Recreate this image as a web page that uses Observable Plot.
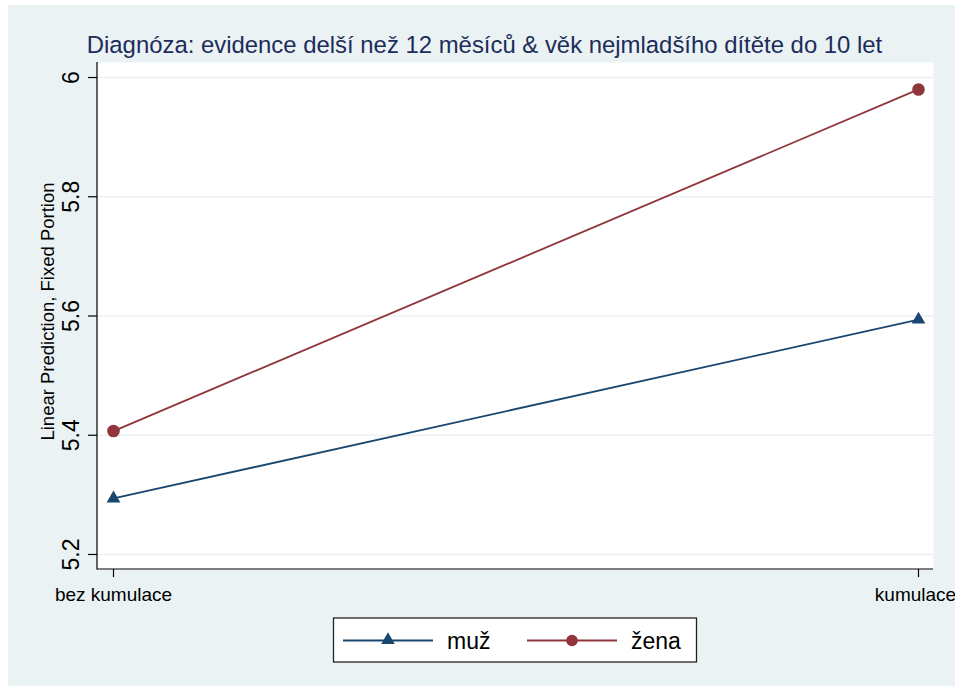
<!DOCTYPE html>
<html>
<head>
<meta charset="utf-8">
<script src="https://cdn.jsdelivr.net/npm/d3@7"></script>
<script src="https://cdn.jsdelivr.net/npm/@observablehq/plot@0.6"></script>
<style>
  html, body { margin: 0; padding: 0; background: white; }
</style>
</head>
<body>
<div id="chart"></div>
<script>
const categories = ["bez kumulace", "kumulace"];
const seriesNames = ["muž", "žena"];
const muzValues = [5.294, 5.594];
const zenaValues = [5.407, 5.980];
const yTicks = [5.2, 5.4, 5.6, 5.8, 6];
const titleText = "Diagnóza: evidence delší než 12 měsíců & věk nejmladšího dítěte do 10 let";
const yLabelText = "Linear Prediction, Fixed Portion";

const colors = {"muž": "#1a476f", "žena": "#90353b"};
const symbols = {"muž": "triangle", "žena": "circle"};

const data = [];
categories.forEach((c, i) => {
  data.push({cat: c, series: seriesNames[0], value: muzValues[i]});
  data.push({cat: c, series: seriesNames[1], value: zenaValues[i]});
});

const FONT = "'Liberation Sans', Arial, Helvetica, sans-serif";

function background() {
  const r = d3.create("svg:rect")
    .attr("x", 8).attr("y", 5).attr("width", 947).attr("height", 681)
    .attr("fill", "#eaf2f3");
  return r.node();
}

function axisLines(index, scales, values, dim) {
  const g = d3.create("svg:g").attr("stroke", "#000").attr("stroke-width", 1.2).attr("fill", "none");
  const l = dim.marginLeft, t = dim.marginTop, b = dim.height - dim.marginBottom, r = dim.width - dim.marginRight;
  g.append("line").attr("x1", l).attr("x2", l).attr("y1", t).attr("y2", b + 0.5);
  g.append("line").attr("x1", l).attr("x2", r).attr("y1", b).attr("y2", b);
  return g.node();
}

function legend(index, scales, values, dim) {
  const g = d3.create("svg:g");
  g.append("rect").attr("x", 333.5).attr("y", 618).attr("width", 363).attr("height", 44)
    .attr("fill", "white").attr("stroke", "#222").attr("stroke-width", 1.3);
  const entries = [
    {name: seriesNames[0], x0: 343, x1: 433, tx: 447},
    {name: seriesNames[1], x0: 527, x1: 617, tx: 631}
  ];
  for (const e of entries) {
    const c = colors[e.name];
    g.append("line").attr("x1", e.x0).attr("x2", e.x1).attr("y1", 640.5).attr("y2", 640.5)
      .attr("stroke", c).attr("stroke-width", 1.8);
    const cx = (e.x0 + e.x1) / 2;
    if (symbols[e.name] === "triangle") {
      g.append("path").attr("d", d3.symbol(d3.symbolTriangle, 80)()).attr("transform", `translate(${cx},640)`)
        .attr("fill", c);
    } else {
      g.append("circle").attr("cx", cx).attr("cy", 640.5).attr("r", 5.8).attr("fill", c);
    }
    g.append("text").attr("x", e.tx).attr("y", 648.5).attr("font-size", 23)
      .attr("text-anchor", "start")
      .attr("font-family", FONT).attr("fill", "#000").text(e.name);
  }
  return g.node();
}

const xLabelOpts = {x: d => d, frameAnchor: "bottom", dy: 18, lineAnchor: "top", textAnchor: "middle", fontSize: 19, fill: "#000", text: d => d};

const chart = Plot.plot({
  width: 955,
  height: 688,
  marginLeft: 97,
  marginRight: 22,
  marginTop: 62,
  marginBottom: 119,
  style: {fontFamily: FONT, fontSize: "19px", background: "white", overflow: "visible", color: "#000"},
  x: {type: "point", domain: categories, padding: 0.01863, label: null},
  y: {domain: [5.1748, 6.0252], label: null},
  marks: [
    background,
    Plot.frame({fill: "white", stroke: null}),
    Plot.gridY(yTicks, {stroke: "#eaf2f3", strokeOpacity: 1, strokeWidth: 1.6}),
    Plot.axisY({ticks: yTicks, tickSize: 9, tickFormat: () => "", color: "#000", strokeWidth: 1.2}),
    Plot.text(yTicks, {
      y: d => d, frameAnchor: "left", dx: -18.5, rotate: -90,
      textAnchor: "middle", lineAnchor: "bottom", fontSize: 23, fill: "#000",
      text: d => d === 6 ? "6" : d.toFixed(1)
    }),
    Plot.axisX({tickSize: 8, tickFormat: () => "", color: "#000", strokeWidth: 1.2}),
    Plot.text([categories[0]], xLabelOpts),
    Plot.text([categories[1]], {...xLabelOpts, dx: -3}),
    axisLines,
    Plot.line(data, {x: "cat", y: "value", z: "series", stroke: d => colors[d.series], strokeWidth: 1.8}),
    Plot.dot(data.filter(d => d.series === seriesNames[0]), {x: "cat", y: "value", symbol: "triangle", r: 5.1, fill: colors["muž"], stroke: null}),
    Plot.dot(data.filter(d => d.series === seriesNames[1]), {x: "cat", y: "value", symbol: "circle", r: 6.3, fill: colors["žena"], stroke: null}),
    Plot.text([titleText], {
      frameAnchor: "top-left", dx: 484 - 97, dy: 52 - 62, textAnchor: "middle", lineAnchor: "bottom",
      fontSize: 23.9, fill: "#1c2c5b", text: d => d
    }),
    Plot.text([yLabelText], {
      frameAnchor: "left", dx: 53 - 97, dy: 311 - 315.5, rotate: -90, textAnchor: "middle", lineAnchor: "bottom",
      fontSize: 18.5, fill: "#000", text: d => d
    }),
    legend
  ]
});
document.getElementById("chart").appendChild(chart);
</script>
</body>
</html>
